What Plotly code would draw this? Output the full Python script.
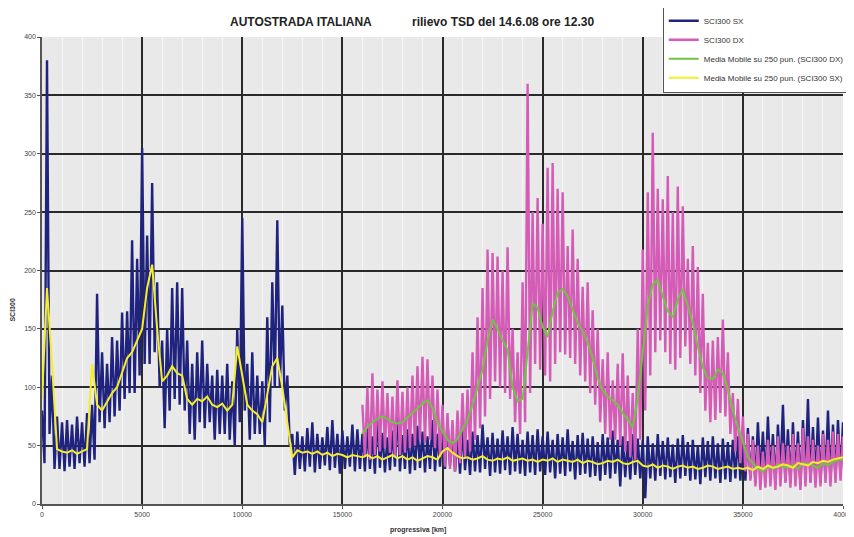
import plotly.graph_objects as go

# ---------------- data ----------------
# progressive distance grid, one sample every 250 m
prog = list(range(0, 40001, 250))  # 161 samples

# SCI300 SX raw signal: upper / lower envelope per 250 m sample
sx_hi = [80, 380, 110, 75, 70, 72, 68, 75, 70, 78, 85, 180, 130, 120, 143, 140, 164, 165, 226, 210,
         305, 230, 275, 190, 140, 150, 185, 190, 185, 140, 120, 130, 140, 120, 110, 115, 110, 120, 105, 150,
         245, 120, 130, 110, 105, 160, 190, 243, 170, 110, 60,
         62, 58, 65, 70, 60, 57, 66, 72, 60, 63, 58, 68, 64,
         60, 66, 58, 78, 61, 57, 63, 80, 59, 64, 60, 67, 62, 58, 72, 60,
         66, 70, 60, 58, 64, 55, 62, 59, 68, 57, 61, 56, 63, 58, 66, 60, 55, 62, 59, 64,
         58, 62, 55, 60, 57, 64, 54, 59, 61, 56, 58, 53, 60, 57, 63, 55, 58, 54, 60, 56,
         55, 58, 52, 60, 54, 57, 51, 56, 59, 53, 55, 50, 57, 54, 58, 52, 56, 53, 55, 58,
         60, 65, 58, 70, 62, 75, 60, 68, 85, 64, 70, 62, 72, 90, 66, 74, 63, 80, 68, 72, 70]
sx_lo = [35, 60, 30, 30, 28, 32, 30, 35, 32, 35, 38, 70, 65, 70, 75, 80, 90, 95, 95, 110,
         120, 120, 130, 100, 65, 80, 90, 85, 80, 60, 55, 70, 65, 70, 55, 60, 60, 55, 50, 70,
         80, 55, 60, 60, 50, 70, 100, 100, 80, 50, 25,
         30, 28, 32, 27, 30, 33, 29, 31, 26, 30, 32, 28, 30,
         28, 30, 26, 31, 27, 29, 32, 28, 30, 26, 29, 31, 27, 30, 28, 32,
         30, 33, 28, 26, 29, 25, 28, 27, 30, 24, 27, 26, 29, 25, 28, 26, 24, 27, 25, 28,
         25, 27, 22, 26, 24, 28, 21, 25, 26, 23, 24, 20, 25, 22, 26, 15, 23, 21, 25, 22,
         5, 22, 20, 24, 21, 23, 18, 22, 24, 20, 21, 17, 23, 20, 22, 18, 21, 19, 22, 20,
         20, 22, 18, 24, 19, 23, 17, 25, 20, 18, 22, 16, 24, 19, 21, 18, 23, 20, 22, 24, 25]

# Moving average (250 pts) of SCI300 SX
sx_ma = [90, 185, 120, 47, 45, 44, 46, 43, 45, 47, 120, 85, 80, 88, 95, 100, 112, 125, 130, 140,
         150, 185, 205, 150, 105, 110, 118, 112, 110, 90, 85, 90, 88, 92, 85, 83, 86, 80, 85, 135,
         110, 85, 80, 77, 70, 95, 118, 125, 100, 70, 40,
         46, 44, 45, 43, 45, 42, 44, 41, 43, 42, 40, 42, 41,
         40, 42, 39, 41, 38, 40, 42, 39, 41, 38, 40, 37, 39, 41, 40, 38,
         45, 48, 44, 41, 39, 40, 38, 39, 41, 38, 37, 39, 38, 40, 37, 38, 39, 37, 38, 36,
         38, 37, 39, 36, 38, 37, 36, 38, 35, 37, 36, 34, 35, 37, 36, 38, 35, 34, 36, 37,
         33, 32, 34, 31, 33, 32, 30, 32, 33, 31, 32, 30, 31, 33, 32, 30, 31, 32, 30, 31,
         30, 31, 29, 32, 30, 33, 31, 32, 34, 33, 31, 35, 34, 33, 36, 35, 37, 36, 38, 39, 40]

# SCI300 DX raw signal: starts at 16000 m
dx_first_index = 64
dx_hi = [85, 100, 112, 98, 105, 95, 92, 106, 96, 100, 110, 118, 126, 124, 110, 98,
         85, 78, 72, 80, 95, 98, 130, 160, 185, 218, 215, 212, 200, 220,
         150, 130, 190, 360, 250, 262, 240, 288, 292, 270, 267, 221, 235, 210, 186, 190,
         166, 150, 124, 130, 106, 120, 129, 110, 95, 150, 218, 267, 318, 270, 261, 281,
         250, 272, 255, 210, 221, 203, 180, 138, 140, 143, 158, 130, 95, 90,
         75, 60, 55, 50, 45, 55, 50, 58, 52, 50, 60, 52, 65, 58, 55, 50, 60, 55, 62, 60, 58]
dx_lo = [40, 38, 42, 45, 48, 44, 40, 42, 44, 48, 50, 55, 52, 55, 48, 40,
         32, 30, 28, 35, 40, 45, 55, 65, 75, 90, 105, 100, 95, 90,
         70, 60, 70, 95, 120, 115, 110, 105, 120, 130, 128, 125, 120, 110, 105, 95,
         85, 70, 60, 55, 55, 50, 45, 40, 38, 55, 80, 110, 130, 140, 130, 120,
         115, 125, 135, 120, 110, 95, 80, 70, 72, 78, 75, 60, 45, 35,
         28, 20, 15, 12, 14, 15, 12, 15, 18, 14, 15, 12, 15, 18, 14, 15, 18, 15, 18, 20, 22]
# Moving average (250 pts) of SCI300 DX
dx_ma = [60, 66, 70, 73, 75, 73, 70, 69, 70, 74, 78, 82, 86, 89, 82, 70,
         62, 55, 52, 56, 64, 72, 85, 100, 115, 140, 158, 150, 140, 132,
         100, 88, 90, 130, 172, 168, 152, 143, 165, 181, 184, 178, 166, 155, 148, 138,
         125, 108, 97, 92, 89, 85, 78, 72, 66, 90, 130, 170, 188, 192, 178, 165,
         160, 175, 184, 170, 155, 135, 117, 108, 107, 115, 112, 98, 80, 66,
         52, 40, 35, 30, 28, 32, 30, 34, 32, 31, 33, 30, 35, 34, 33, 31, 35, 33, 36, 38, 38]

x_ticks = [0, 5000, 10000, 15000, 20000, 25000, 30000, 35000, 40000]
y_ticks = [0, 50, 100, 150, 200, 250, 300, 350, 400]

names = ["SCI300 SX", "SCI300 DX",
         "Media Mobile su 250 pun. (SCI300 DX)",
         "Media Mobile su 250 pun. (SCI300 SX)"]

# ---------------- build traces ----------------
half = 125
sx_x, sx_y = [], []
for p, h, l in zip(prog, sx_hi, sx_lo):
    sx_x += [p, p + half]
    sx_y += [h, l]

dx_prog = prog[dx_first_index:]
dx_x, dx_y = [], []
for p, h, l in zip(dx_prog, dx_hi, dx_lo):
    dx_x += [p, p + half]
    dx_y += [h, l]

fig = go.Figure()
fig.add_trace(go.Scatter(x=sx_x, y=sx_y, mode="lines", name=names[0],
                         line=dict(color="#20237e", width=2.4)))
fig.add_trace(go.Scatter(x=dx_x, y=dx_y, mode="lines", name=names[1],
                         line=dict(color="#d45cb6", width=2.4)))
fig.add_trace(go.Scatter(x=dx_prog, y=dx_ma, mode="lines", name=names[2],
                         line=dict(color="#72c244", width=2)))
fig.add_trace(go.Scatter(x=prog, y=sx_ma, mode="lines", name=names[3],
                         line=dict(color="#f4ee2a", width=2)))

# the page body adds an 8px offset, so margins are reduced accordingly
fig.update_layout(
    width=854, height=537,
    margin=dict(l=34, r=19, t=29, b=41, autoexpand=False),
    paper_bgcolor="white",
    plot_bgcolor="#e9e9e9",
    font=dict(family="Liberation Sans, Arial, sans-serif", size=7, color="#444"),
    showlegend=True,
    legend=dict(x=0.775, y=1.068, xanchor="left", yanchor="top",
                bgcolor="white", bordercolor="#555", borderwidth=1,
                font=dict(size=8, color="#333"), tracegroupgap=0,
                itemwidth=30),
    xaxis=dict(range=[0, 40000], tickvals=x_ticks, ticktext=[str(v) for v in x_ticks],
               showgrid=True, gridcolor="#2a2a2a", gridwidth=1.5,
               minor=dict(dtick=1000, showgrid=True, gridcolor="#f6f6f6", gridwidth=1),
               showline=True, linecolor="#555", linewidth=1.5, zeroline=False,
               ticks="outside", ticklen=3, tickcolor="#555",
               tickfont=dict(size=7, color="#444")),
    yaxis=dict(range=[0, 400], tickvals=y_ticks, ticktext=[str(v) for v in y_ticks],
               showgrid=True, gridcolor="#2a2a2a", gridwidth=1.5,
               showline=True, linecolor="#555", linewidth=1.5, zeroline=False,
               ticks="outside", ticklen=3, tickcolor="#555",
               tickfont=dict(size=7, color="#444")),
)

fig.add_annotation(x=0.323, y=1.032, xref="paper", yref="paper", showarrow=False,
                   xanchor="center", yanchor="middle",
                   text="<b>AUTOSTRADA ITALIANA</b>", font=dict(size=12, color="#222"))
fig.add_annotation(x=0.576, y=1.032, xref="paper", yref="paper", showarrow=False,
                   xanchor="center", yanchor="middle",
                   text="<b>rilievo TSD del 14.6.08 ore 12.30</b>", font=dict(size=12, color="#222"))
fig.add_annotation(x=-0.037, y=0.415, xref="paper", yref="paper", showarrow=False,
                   xanchor="center", yanchor="middle",
                   text="<b>SCI300</b>", textangle=-90, font=dict(size=7, color="#333"))
fig.add_annotation(x=0.469, y=-0.056, xref="paper", yref="paper", showarrow=False,
                   xanchor="center", yanchor="middle",
                   text="<b>progressiva [km]</b>", font=dict(size=7, color="#333"))

fig.write_html("out.html")
